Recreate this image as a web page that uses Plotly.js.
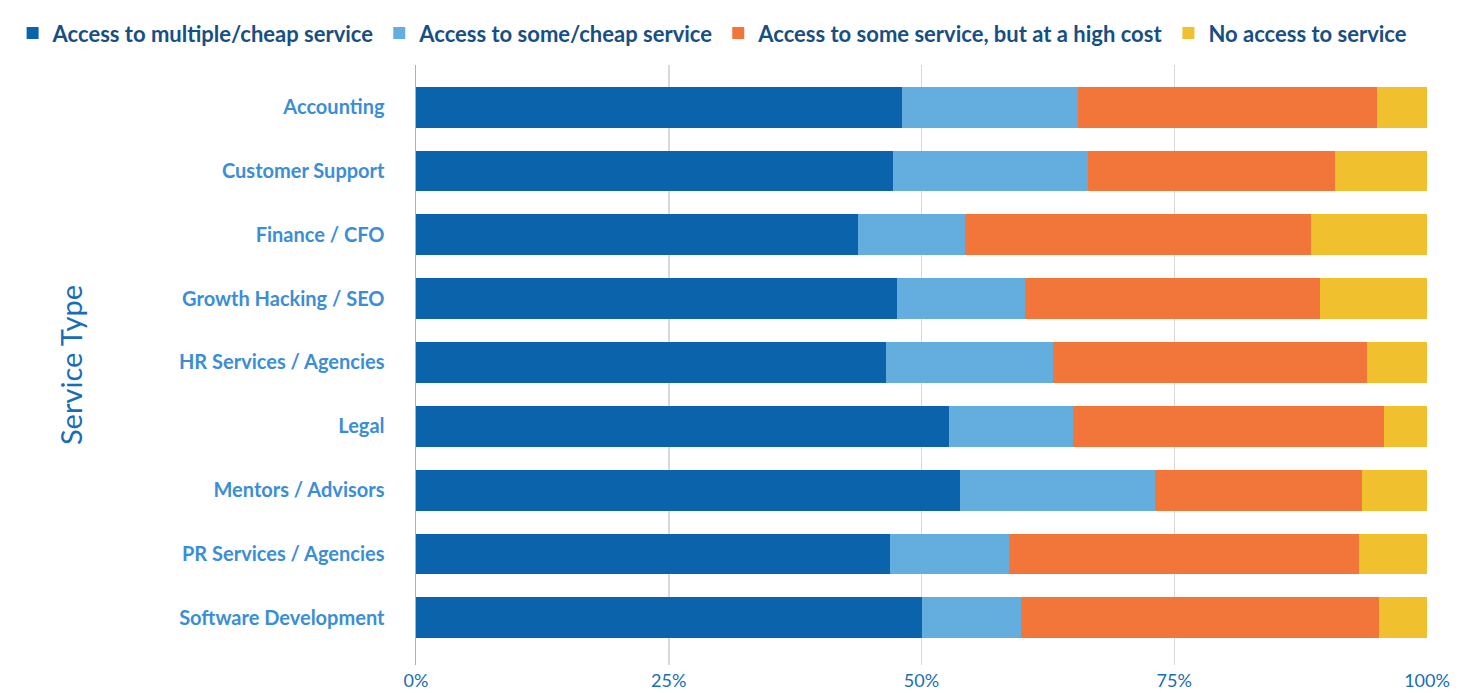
<!DOCTYPE html>
<html>
<head>
<meta charset="utf-8">
<script src="https://cdn.plot.ly/plotly-3.0.1.min.js"></script>
<style>html,body{margin:0;padding:0;background:#fff;}#chart{width:1462px;height:693px;}</style>
</head>
<body>
<div id="chart"></div>
<script>
const categories = ["Accounting","Customer Support","Finance / CFO","Growth Hacking / SEO","HR Services / Agencies","Legal","Mentors / Advisors","PR Services / Agencies","Software Development"];
const seriesNames = ["Access to multiple/cheap service","Access to some/cheap service","Access to some service, but at a high cost","No access to service"];
const multipleCheap = [48.1, 47.2, 43.7, 47.6, 46.5, 52.7, 53.8, 46.9, 50.0];
const someCheap     = [17.4, 19.3, 10.6, 12.6, 16.5, 12.3, 19.3, 11.8,  9.8];
const highCost      = [29.6, 24.4, 34.2, 29.2, 31.1, 30.7, 20.5, 34.6, 35.5];
const noAccess      = [ 4.9,  9.1, 11.5, 10.6,  5.9,  4.3,  6.4,  6.7,  4.7];
const xTicks = [0, 25, 50, 75, 100];
const xTickLabels = ["0%","25%","50%","75%","100%"];
const colors = ["#0b64ab","#64addf","#f27539","#f0c02f"];

const seriesValues = [multipleCheap, someCheap, highCost, noAccess];
const traces = seriesValues.map((vals, i) => ({
  type: "bar",
  orientation: "h",
  name: seriesNames[i],
  y: categories,
  x: vals,
  marker: {color: colors[i], line: {width: 0}},
  hoverinfo: "x+y+name"
}));

const layout = {
  width: 1462, height: 693,
  margin: {l: 416, r: 35, t: 65, b: 28},
  barmode: "stack",
  bargap: 0.36,
  paper_bgcolor: "#ffffff",
  plot_bgcolor: "#ffffff",
  font: {family: "Lato, 'Open Sans', sans-serif"},
  showlegend: true,
  legend: {
    orientation: "h",
    x: -0.399, xanchor: "left",
    y: 1.088, yanchor: "top",
    font: {size: 22, color: "#174f84", family: "Lato, sans-serif", weight: "bold"},
    itemsizing: "constant",
    traceorder: "normal"
  },
  xaxis: {
    range: [0, 100],
    tickvals: xTicks,
    ticktext: xTickLabels,
    showgrid: true,
    gridcolor: "#d9d9d9",
    gridwidth: 1.5,
    zeroline: false,
    showline: false,
    ticks: "",
    ticklabelstandoff: 3,
    tickfont: {size: 18, color: "#1a6db5"},
    fixedrange: true
  },
  yaxis: {
    type: "category",
    categoryorder: "array",
    categoryarray: categories,
    range: [8.74, -0.66],
    showgrid: false,
    zeroline: false,
    showline: true,
    linecolor: "#b0b0b0",
    linewidth: 1.5,
    ticks: "",
    ticklabelstandoff: 26,
    tickfont: {size: 20, color: "#3b8ed6", weight: "bold"},
    title: {text: "Service Type", font: {size: 29, color: "#1a6db5"}, standoff: 88},
    fixedrange: true
  }
};

Plotly.newPlot("chart", traces, layout, {displayModeBar: false, staticPlot: true});
</script>
</body>
</html>
